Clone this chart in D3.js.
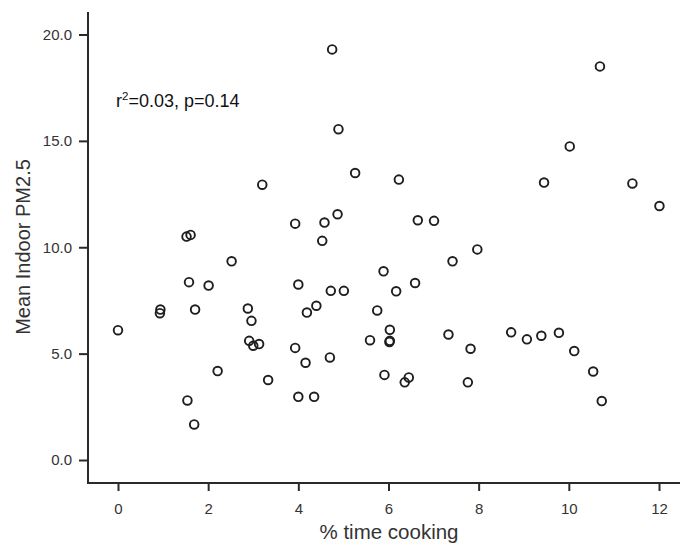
<!DOCTYPE html>
<html>
<head>
<meta charset="utf-8">
<script src="https://cdn.jsdelivr.net/npm/d3@7/dist/d3.min.js"></script>
<style>
  html, body { margin: 0; padding: 0; background: #fff; }
  svg { display: block; font-family: "Liberation Sans", Arial, Helvetica, sans-serif; }
</style>
</head>
<body>
<svg id="chart" width="680" height="552"></svg>
<script>
// % of time spent cooking for each household
const cookingPct = [
  0, 0.93, 0.94, 1.52, 1.61, 1.575, 1.71, 2.01, 2.52, 2.21, 1.54, 1.69,
  2.88, 2.96, 2.91, 3.0, 3.13, 3.2, 3.33, 3.93, 4.58, 4.87, 4.53, 4.0,
  4.72, 5.01, 4.4, 4.19, 3.93, 4.16, 4.7, 4.0, 4.35, 6.65, 7.01, 7.97,
  7.42, 5.89, 6.59, 6.17, 5.75, 6.03, 6.03, 6.02, 5.59, 7.33, 7.82, 5.91,
  6.45, 6.36, 7.76, 8.72, 9.07, 9.39, 9.78, 10.12, 10.54, 10.73, 12.01,
  10.69, 10.02, 9.45, 11.41, 4.75, 4.89, 5.26, 6.23
];
// Mean indoor PM2.5 for the same households
const pm25 = [
  6.1, 6.9, 7.07, 10.5, 10.58, 8.36, 7.07, 8.2, 9.34, 4.18, 2.8, 1.67,
  7.12, 6.54, 5.6, 5.37, 5.45, 12.94, 3.76, 11.11, 11.16, 11.55, 10.3, 8.25,
  7.95, 7.95, 7.25, 6.93, 5.27, 4.57, 4.82, 2.97, 2.97, 11.27, 11.24, 9.9,
  9.34, 8.87, 8.32, 7.93, 7.03, 6.12, 5.6, 5.55, 5.63, 5.9, 5.23, 4.0,
  3.88, 3.65, 3.65, 6.0, 5.67, 5.84, 5.98, 5.12, 4.16, 2.77, 11.94,
  18.5, 14.74, 13.04, 13.0, 19.3, 15.55, 13.49, 13.18
];
const xTicks = [0, 2, 4, 6, 8, 10, 12];
const yTicks = [0, 5, 10, 15, 20];

const svg = d3.select("#chart");
const axisX0 = 88, axisY0 = 483;

const x = d3.scaleLinear().domain([0, 12]).range([118, 659]);
const y = d3.scaleLinear().domain([0, 20]).range([460, 34.5]);

const ink = "#2a2a2a";

// axis lines
svg.append("line")
  .attr("x1", axisX0).attr("x2", axisX0)
  .attr("y1", 12).attr("y2", axisY0 + 1)
  .attr("stroke", ink).attr("stroke-width", 2);
svg.append("line")
  .attr("x1", axisX0 - 1).attr("x2", 680)
  .attr("y1", axisY0).attr("y2", axisY0)
  .attr("stroke", ink).attr("stroke-width", 2);

// y axis ticks and labels
const gy = svg.append("g")
  .attr("transform", `translate(${axisX0},0)`)
  .call(d3.axisLeft(y).tickValues(yTicks).tickFormat(d3.format(".1f"))
    .tickSize(9).tickPadding(7));
gy.select(".domain").remove();
gy.selectAll(".tick line").attr("stroke", ink).attr("stroke-width", 2);
gy.selectAll(".tick text")
  .attr("fill", "#333").style("font-size", "15px")
  .style("font-family", "'Liberation Sans', Arial, sans-serif");

// x axis ticks and labels
const gx = svg.append("g")
  .attr("transform", `translate(0,${axisY0})`)
  .call(d3.axisBottom(x).tickValues(xTicks).tickFormat(d3.format("d"))
    .tickSize(8).tickPadding(12));
gx.select(".domain").remove();
gx.selectAll(".tick line").attr("stroke", ink).attr("stroke-width", 2);
gx.selectAll(".tick text")
  .attr("fill", "#333").style("font-size", "15px")
  .style("font-family", "'Liberation Sans', Arial, sans-serif");

// axis titles
svg.append("text")
  .attr("x", 389).attr("y", 539)
  .attr("text-anchor", "middle")
  .attr("fill", "#333")
  .style("font-size", "20.5px")
  .text("% time cooking");

svg.append("text")
  .attr("transform", "translate(30,247) rotate(-90)")
  .attr("text-anchor", "middle")
  .attr("fill", "#333")
  .style("font-size", "20px")
  .text("Mean Indoor PM2.5");

// fit statistics
const note = svg.append("text")
  .attr("x", 116).attr("y", 107)
  .attr("fill", "#111")
  .style("font-size", "18px");
note.append("tspan").text("r");
note.append("tspan").attr("dy", -7).style("font-size", "11.5px").text("2");
note.append("tspan").attr("dy", 7).text("=0.03, p=0.14");

// data points
svg.append("g")
  .selectAll("circle")
  .data(d3.range(cookingPct.length))
  .join("circle")
  .attr("cx", i => x(cookingPct[i]))
  .attr("cy", i => y(pm25[i]))
  .attr("r", 4.3)
  .attr("fill", "none")
  .attr("stroke", "#1e1e1e")
  .attr("stroke-width", 1.9);
</script>
</body>
</html>
